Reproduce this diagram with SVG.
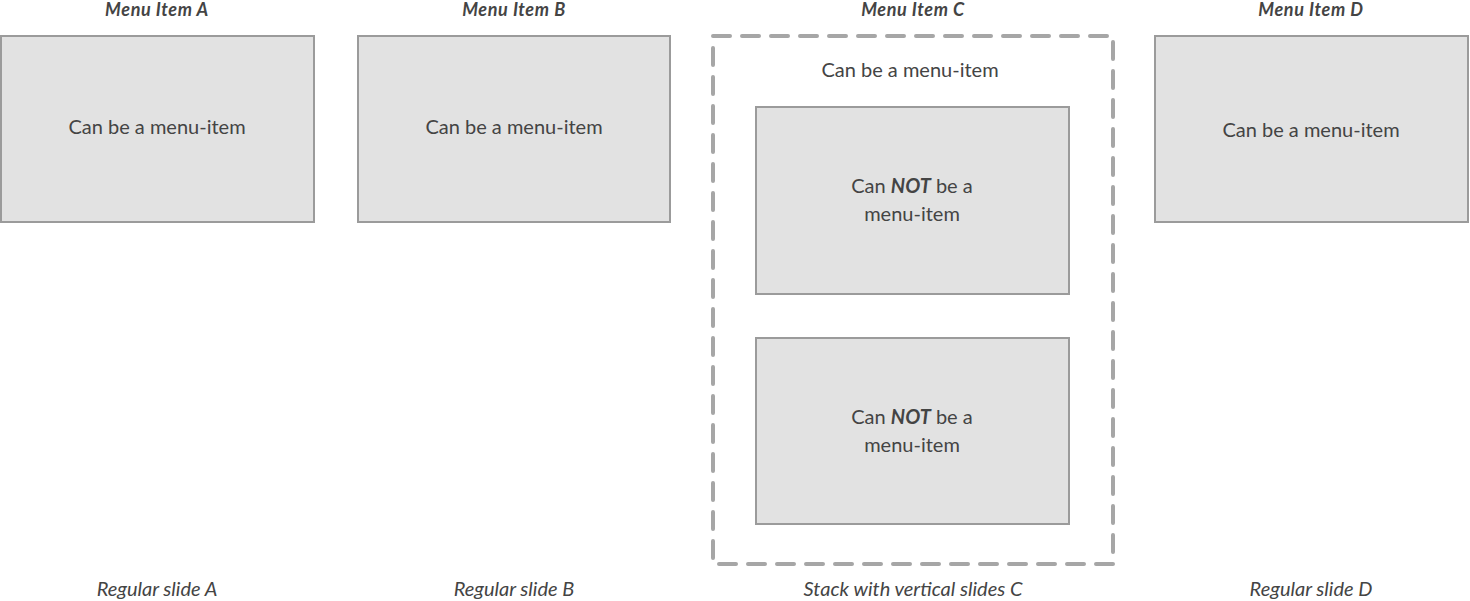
<svg xmlns="http://www.w3.org/2000/svg" width="1470" height="601" viewBox="0 0 1470 601">
<style>
.box{fill:#e2e2e2;stroke:#9b9b9b;stroke-width:2}
.stack{fill:none;stroke:#a6a6a6;stroke-width:4;stroke-dasharray:17 12;stroke-linecap:round}
text{font-family:Lato,"Liberation Sans",sans-serif;fill:#444;text-anchor:middle}
.t{font-size:20px}
.h{font-size:18px;font-style:italic;font-weight:bold;letter-spacing:0.6px}
.f{font-size:20px;font-style:italic}
</style>
<rect width="1470" height="601" fill="#fff"/>
<g id="slideA">
<text class="h" x="157" y="15.5">Menu Item A</text>
<rect class="box" x="1" y="36" width="313" height="186"/>
<text class="t" x="157" y="134">Can be a menu-item</text>
<text class="f" x="157" y="596">Regular slide A</text>
</g>
<g id="slideB">
<text class="h" x="514" y="15.5">Menu Item B</text>
<rect class="box" x="358" y="36" width="312" height="186"/>
<text class="t" x="514" y="134">Can be a menu-item</text>
<text class="f" x="514" y="596">Regular slide B</text>
</g>
<g id="stackC">
<text class="h" x="913" y="15.5">Menu Item C</text>
<rect class="stack" x="713" y="36" width="400" height="528"/>
<text class="t" x="910" y="77">Can be a menu-item</text>
<text class="f" x="913" y="596">Stack with vertical slides C</text>
</g>
<g id="verticalC1">
<rect class="box" x="756" y="107" width="313" height="187"/>
<text class="t" x="912" y="193">Can <tspan font-style="italic" font-weight="bold">NOT</tspan> be a</text>
<text class="t" x="912" y="221">menu-item</text>
</g>
<g id="verticalC2">
<rect class="box" x="756" y="338" width="313" height="186"/>
<text class="t" x="912" y="424">Can <tspan font-style="italic" font-weight="bold">NOT</tspan> be a</text>
<text class="t" x="912" y="452">menu-item</text>
</g>
<g id="slideD">
<text class="h" x="1311" y="15.5">Menu Item D</text>
<rect class="box" x="1155" y="36" width="313" height="186"/>
<text class="t" x="1311" y="137">Can be a menu-item</text>
<text class="f" x="1311" y="596">Regular slide D</text>
</g>
<g id="connectors"></g>
</svg>
